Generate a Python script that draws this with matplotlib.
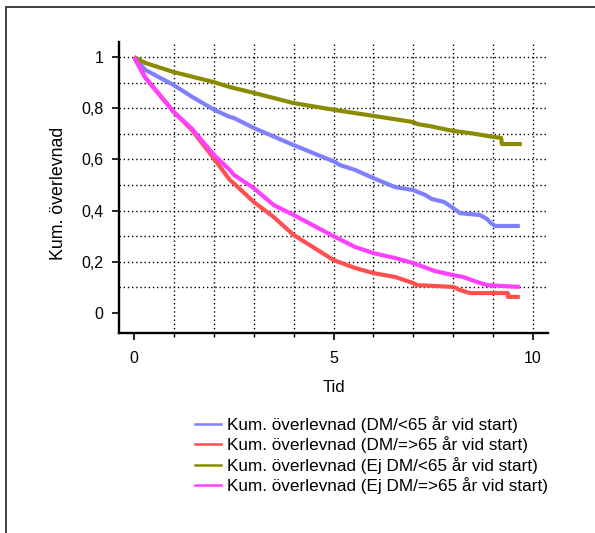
import matplotlib.pyplot as plt
from matplotlib.patches import Rectangle
from matplotlib.ticker import FixedLocator, FuncFormatter

plt.rcParams['font.family'] = ['Liberation Sans', 'DejaVu Sans']

# Kaplan-Meier curves (tid, kum. overlevnad)
t_dm_u65 = [0, 0.28, 1.0, 1.45, 2.02, 2.4, 2.5, 3.0, 4.0, 5.04, 5.16, 5.54, 6.0, 6.54,
            7.0, 7.3, 7.47, 7.77, 8.0, 8.17, 8.67, 8.85, 8.92, 9.05, 9.67]
s_dm_u65 = [1.0, 0.95, 0.89, 0.845, 0.793, 0.766, 0.762, 0.723, 0.656, 0.59, 0.578, 0.559,
            0.527, 0.492, 0.48, 0.461, 0.445, 0.434, 0.41, 0.39, 0.383, 0.367, 0.355, 0.34, 0.34]

t_dm_o65 = [0, 0.28, 1.0, 1.45, 2.02, 2.4, 2.5, 3.0, 3.5, 4.0, 5.0, 5.54, 6.0, 6.54,
            7.0, 7.1, 8.0, 8.17, 8.42, 9.37, 9.37, 9.67]
s_dm_o65 = [1.0, 0.92, 0.785, 0.715, 0.60, 0.52, 0.507, 0.434, 0.375, 0.305, 0.207, 0.176,
            0.156, 0.141, 0.117, 0.109, 0.102, 0.09, 0.078, 0.078, 0.063, 0.063]

t_ej_u65 = [0, 0.28, 1.0, 2.0, 2.4, 2.5, 3.0, 4.0, 5.04, 5.16, 6.0, 7.0, 7.1, 7.42,
            8.0, 8.42, 9.0, 9.2, 9.22, 9.72]
s_ej_u65 = [1.0, 0.977, 0.941, 0.902, 0.883, 0.879, 0.86, 0.82, 0.793, 0.79, 0.77, 0.746,
            0.738, 0.73, 0.711, 0.703, 0.688, 0.684, 0.66, 0.66]

t_ej_o65 = [0, 0.28, 1.0, 1.45, 2.02, 2.4, 2.5, 3.0, 3.5, 4.0, 5.04, 5.54, 6.0, 6.54,
            7.0, 7.54, 8.0, 8.25, 8.6, 8.85, 9.67]
s_ej_o65 = [1.0, 0.92, 0.785, 0.72, 0.615, 0.559, 0.54, 0.488, 0.422, 0.383, 0.297, 0.258,
            0.234, 0.215, 0.195, 0.164, 0.148, 0.141, 0.121, 0.109, 0.102]

labels = ['Kum. överlevnad (DM/<65 år vid start)',
          'Kum. överlevnad (DM/=>65 år vid start)',
          'Kum. överlevnad (Ej DM/<65 år vid start)',
          'Kum. överlevnad (Ej DM/=>65 år vid start)']
colors = ['#8080ff', '#ff5050', '#8b8b00', '#ff40ff']

fs = 12.3

fig = plt.figure(figsize=(5.95, 5.33), dpi=100)
ax = fig.add_axes([119/595, 1-333/533, 429/595, 291/533])

# outer frame
fig.patches.append(Rectangle((6/595, -0.1), 1.2, 1-7/533+0.1, transform=fig.transFigure,
                             fill=False, edgecolor='#333333', lw=1.3))

# dotted grid
for yv in [0.1 * i for i in range(1, 11)]:
    ax.axhline(yv, color='black', lw=1.0, ls=(0, (1, 2)), zorder=1)
for xv in range(1, 11):
    ax.axvline(xv, color='black', lw=1.0, ls=(0, (1, 2)), zorder=1)

series = [(t_dm_u65, s_dm_u65), (t_dm_o65, s_dm_o65), (t_ej_u65, s_ej_u65), (t_ej_o65, s_ej_o65)]
handles = []
for (t, s), c, lab in zip(series, colors, labels):
    ax.plot(t, s, color=c, lw=3.0, zorder=3, solid_capstyle='butt')
    h, = ax.plot([], [], color=c, lw=1.8, label=lab)
    handles.append(h)

ax.set_xlim(-0.376, 10.376)
ax.set_ylim(-0.078, 1.0586)

for sp in ['top', 'right']:
    ax.spines[sp].set_visible(False)
for sp in ['left', 'bottom']:
    ax.spines[sp].set_linewidth(1.7)

ax.xaxis.set_major_locator(FixedLocator([0, 5, 10]))
ax.xaxis.set_minor_locator(FixedLocator([1, 2, 3, 4, 6, 7, 8, 9]))
ax.yaxis.set_major_locator(FixedLocator([0, 0.2, 0.4, 0.6, 0.8, 1.0]))
ax.yaxis.set_major_formatter(FuncFormatter(lambda v, p: ('%g' % round(v, 1)).replace('.', ',')))
ax.tick_params(axis='both', which='major', length=5, width=1.2, labelsize=11.5)
ax.tick_params(axis='x', which='major', pad=8)
ax.tick_params(axis='y', which='major', pad=6)
ax.tick_params(axis='x', which='minor', length=3, width=1.0)

ax.set_ylabel('Kum. överlevnad', fontsize=12.8)
ax.yaxis.set_label_coords(-0.122, 0.48)
ax.set_xlabel('Tid', fontsize=12)
ax.xaxis.set_label_coords(0.502, -0.162)

fig.legend(handles=handles, loc='upper left', bbox_to_anchor=(195/595, 1-416/533),
           frameon=False, fontsize=fs, handlelength=1.5, handletextpad=0.4,
           labelspacing=0.2, borderpad=0, borderaxespad=0)

fig.savefig('out.png', dpi=100)
